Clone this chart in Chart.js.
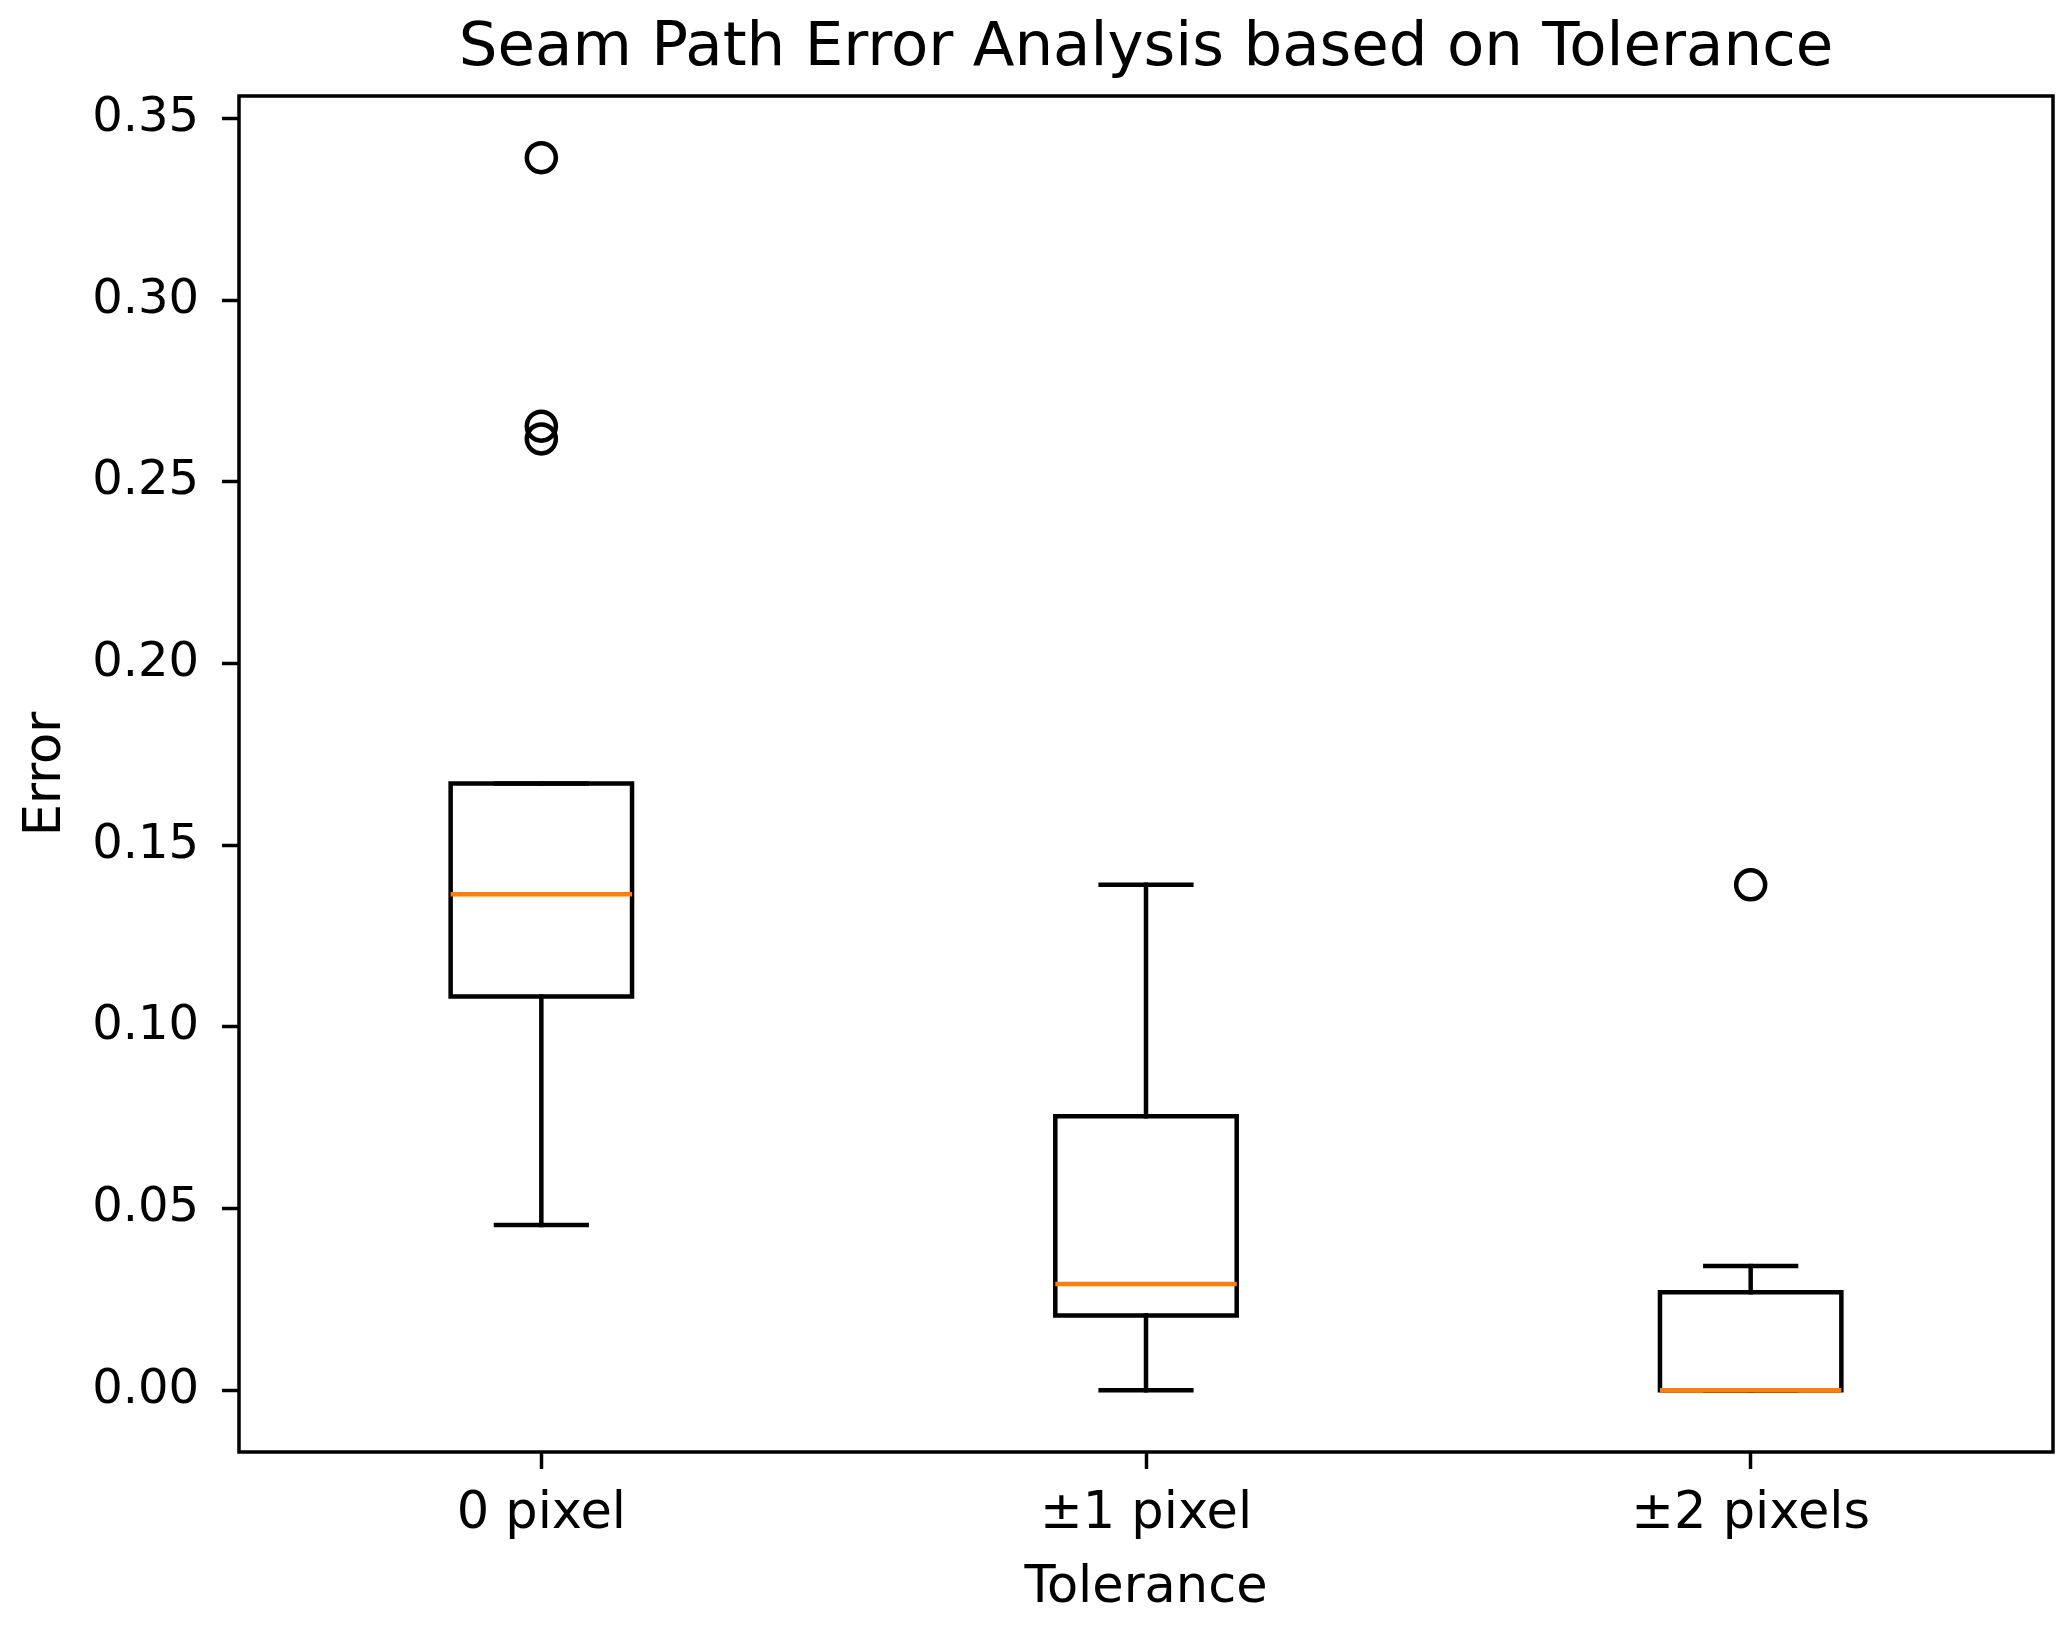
<!DOCTYPE html>
<html>
<head>
<meta charset="utf-8">
<script src="https://cdn.jsdelivr.net/npm/chart.js@4.4.1/dist/chart.umd.min.js"></script>
<style>
  html, body { margin: 0; padding: 0; background: #fff; }
</style>
</head>
<body>
<canvas id="box" width="2072" height="1630"></canvas>
<script>
// values
const categories = ['0 pixel', '±1 pixel', '±2 pixels'];
const q1 = [0.1084, 0.0206, 0.0];
const median = [0.1365, 0.0293, 0.0];
const q3 = [0.1670, 0.0754, 0.0270];
const whiskerLow = [0.0455, 0.0, 0.0];
const whiskerHigh = [0.1670, 0.1391, 0.0342];
const outliers = [[0.3392, 0.2653, 0.2618], [], [0.1391]];
const yTicks = [0.00, 0.05, 0.10, 0.15, 0.20, 0.25, 0.30, 0.35];

const boxHalf = 0.15;
const capHalf = 0.075;
const lineW = 4.5;

// matplotlib-like 5% margins
const allVals = whiskerLow.concat(whiskerHigh, outliers.flat());
const dMin = Math.min(...allVals), dMax = Math.max(...allVals);
const yMin = dMin - 0.05 * (dMax - dMin);
const yMax = dMax + 0.05 * (dMax - dMin);

function seg(points, color, order) {
  return {
    type: 'scatter',
    data: points,
    showLine: true,
    borderColor: color,
    borderWidth: lineW,
    borderCapStyle: 'square',
    borderJoinStyle: 'miter',
    pointRadius: 0,
    fill: false,
    order: order
  };
}

const datasets = [];
categories.forEach((c, i) => {
  const x = i + 1;
  datasets.push(seg([{x: x - boxHalf, y: q1[i]}, {x: x + boxHalf, y: q1[i]}, {x: x + boxHalf, y: q3[i]},
                     {x: x - boxHalf, y: q3[i]}, {x: x - boxHalf, y: q1[i]}], '#000', 3));
  datasets.push(seg([{x: x, y: q1[i]}, {x: x, y: whiskerLow[i]}], '#000', 3));
  datasets.push(seg([{x: x, y: q3[i]}, {x: x, y: whiskerHigh[i]}], '#000', 3));
  datasets.push(seg([{x: x - capHalf, y: whiskerLow[i]}, {x: x + capHalf, y: whiskerLow[i]}], '#000', 3));
  datasets.push(seg([{x: x - capHalf, y: whiskerHigh[i]}, {x: x + capHalf, y: whiskerHigh[i]}], '#000', 3));
  const med = seg([{x: x - boxHalf, y: median[i]}, {x: x + boxHalf, y: median[i]}], '#ff7f0e', 1);
  med.borderCapStyle = 'butt';
  datasets.push(med);
});

datasets.push({
  type: 'scatter',
  data: outliers.flatMap((list, i) => list.map(v => ({x: i + 1, y: v}))),
  pointStyle: 'circle',
  pointRadius: 14.5,
  pointBorderWidth: 4.5,
  pointBorderColor: '#000',
  pointBackgroundColor: 'rgba(0,0,0,0)',
  showLine: false,
  order: 0
});

const frame = {
  id: 'frame',
  afterLayout(chart) {
    // centre the title over the plot area, like matplotlib
    if (chart.titleBlock) {
      chart.titleBlock.left = chart.chartArea.left;
      chart.titleBlock.right = chart.chartArea.right;
    }
  },
  afterDraw(chart) {
    const a = chart.chartArea, ctx = chart.ctx;
    ctx.save();
    ctx.strokeStyle = '#000';
    ctx.lineWidth = 3.5;
    ctx.strokeRect(a.left, a.top, a.right - a.left, a.bottom - a.top);
    ctx.restore();
  }
};

const font = { family: 'DejaVu Sans', size: 51 };

new Chart(document.getElementById('box'), {
  type: 'scatter',
  data: { datasets: datasets },
  plugins: [frame],
  options: {
    responsive: false,
    devicePixelRatio: 1,
    animation: false,
    layout: { padding: { left: 0, right: 15, top: 0, bottom: 0 } },
    plugins: {
      legend: { display: false },
      tooltip: { enabled: false },
      title: {
        display: true,
        text: 'Seam Path Error Analysis based on Tolerance',
        color: '#000',
        font: { family: 'DejaVu Sans', size: 61, weight: 'normal', lineHeight: 1.2 },
        padding: { top: 13, bottom: 9.8 }
      }
    },
    scales: {
      x: {
        type: 'linear',
        min: 0.5,
        max: 3.5,
        afterBuildTicks: (axis) => { axis.ticks = categories.map((c, i) => ({ value: i + 1 })); },
        afterFit: (scale) => { scale.height = 178; },
        ticks: {
          color: '#000',
          font: font,
          padding: 15,
          maxRotation: 0,
          callback: (v) => categories[v - 1]
        },
        grid: { drawOnChartArea: false, drawTicks: true, tickLength: 17, tickColor: '#000', tickWidth: 3.5 },
        border: { display: false },
        title: { display: true, text: 'Tolerance', color: '#000', font: font, padding: { top: 0, bottom: 11 } }
      },
      y: {
        type: 'linear',
        min: yMin,
        max: yMax,
        afterBuildTicks: (axis) => { axis.ticks = yTicks.map(v => ({ value: v })); },
        afterFit: (scale) => { scale.width = 239; },
        ticks: {
          color: '#000',
          font: { family: 'DejaVu Sans', size: 48 },
          padding: 23,
          callback: (v) => v.toFixed(2)
        },
        grid: { drawOnChartArea: false, drawTicks: true, tickLength: 17, tickColor: '#000', tickWidth: 3.5 },
        border: { display: false },
        title: { display: true, text: 'Error', color: '#000', font: font, padding: { top: 16, bottom: 0 } }
      }
    }
  }
});
</script>
</body>
</html>
